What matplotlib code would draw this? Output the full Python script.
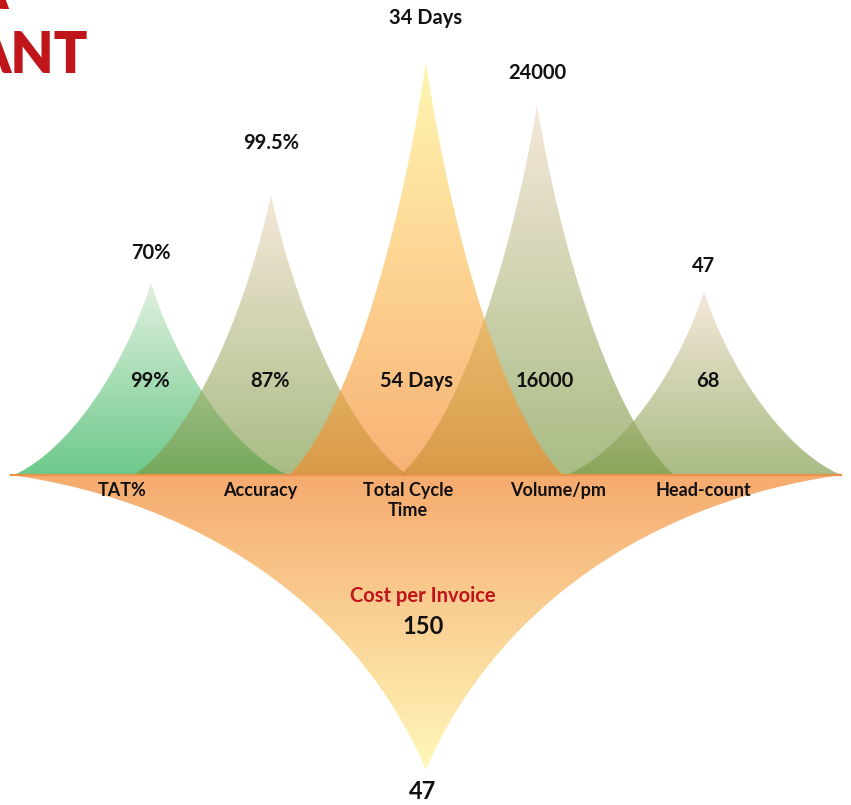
import numpy as np
import matplotlib.pyplot as plt
from matplotlib.patches import Polygon
from matplotlib.colors import to_rgb

# data
categories = ["TAT%", "Accuracy", "Total Cycle\nTime", "Volume/pm", "Head-count"]
current = ["99%", "87%", "54 Days", "16000", "68"]
target = ["70%", "99.5%", "34 Days", "24000", "47"]
peak_height = [192, 280, 413, 370, 183]
cost_label = "Cost per Invoice"
cost_current = "150"
cost_target = "47"

# layout (pixel-like units, baseline at 0)
centers = [151, 271, 426, 537, 704]
half_w = 137
target_y = [222, 332, 457, 402, 209]
value_x = [150, 270, 417, 545, 708]
cat_x = [122, 260, 408, 558, 703]
down_cx, down_w, down_h = 426, 415, -295

ALPHA = 0.65
top_cols = ["#e2f1df", "#f6e8da", "#fff6b2", "#f6e8da", "#f6e8da"]
mid_cols = [None, None, "#fedb98", None, None]
bot_cols = ["#6cc98a", "#a8bc84", "#f8b274", "#a8bc84", "#a8bc84"]
zorders = [2, 3, 5, 3, 4]

plt.rcParams['font.family'] = ['Lato', 'DejaVu Sans']


def bezier(p0, p1, p2, p3, n=150):
    t = np.linspace(0, 1, n)[:, None]
    return ((1 - t) ** 3 * p0 + 3 * (1 - t) ** 2 * t * p1
            + 3 * (1 - t) * t ** 2 * p2 + t ** 3 * p3)


def spike(cx, w, h, c1, c2):
    e = bezier(np.array([0, 1.]), np.array(c1), np.array(c2), np.array([1, 0.]))
    right = np.column_stack([cx + e[:, 0] * w, e[:, 1] * h])
    left = np.column_stack([cx - e[::-1, 0] * w, e[::-1, 1] * h])
    return np.vstack([left, right[1:]])


def pure(col, a):
    c = np.array(to_rgb(col))
    return np.clip((c - (1 - a)) / a, 0, 1)


def gradient(stops, a, n=256):
    # stops: (pos, colour), pos 0 = base, 1 = tip
    pos = np.array([s[0] for s in stops])
    cols = np.array([pure(s[1], a) for s in stops])
    t = np.linspace(0, 1, n)
    rgb = np.column_stack([np.interp(t, pos, cols[:, k]) for k in range(3)])
    img = np.ones((n, 1, 4))
    img[:, 0, :3] = rgb
    img[:, 0, 3] = a
    return img


fig = plt.figure(figsize=(8.51, 8.05), dpi=100)
ax = fig.add_axes([0, 0, 1, 1])
ax.set_xlim(0, 851)
ax.set_ylim(-330, 475)
ax.axis('off')

# downward spike
verts = spike(down_cx, down_w, down_h, (0.15, 0.5), (0.5, 0.1))
poly = Polygon(verts, closed=True, facecolor='none', edgecolor='none')
ax.add_patch(poly)
img = gradient([(0, "#f6aa6e"), (1, "#fff8ba")], 1.0)
im = ax.imshow(img[::-1], extent=(down_cx - down_w, down_cx + down_w, down_h, 0),
               origin='lower', aspect='auto', interpolation='bilinear', zorder=1)
im.set_clip_path(poly)

# upward spikes
for i in range(len(categories)):
    cx, h = centers[i], peak_height[i]
    verts = spike(cx, half_w, h, (0.2, 0.55), (0.6, 0.13))
    poly = Polygon(verts, closed=True, facecolor='none', edgecolor='none')
    ax.add_patch(poly)
    stops = [(0, bot_cols[i])]
    if mid_cols[i]:
        stops.append((0.6, mid_cols[i]))
    stops.append((1, top_cols[i]))
    img = gradient(stops, ALPHA)
    im = ax.imshow(img, extent=(cx - half_w, cx + half_w, 0, h), origin='lower',
                   aspect='auto', interpolation='bilinear', zorder=zorders[i])
    im.set_clip_path(poly)

ax.plot([down_cx - down_w, down_cx + down_w], [0, 0], color='#e9924a', lw=1.6, zorder=6)

txt = dict(ha='center', va='center', color='#111111', fontweight='bold', zorder=10)
for i in range(len(categories)):
    ax.text(centers[i], target_y[i], target[i], fontsize=14.5, **txt)
    ax.text(value_x[i], 94, current[i], fontsize=14.5, **txt)
    ax.text(cat_x[i], -7, categories[i], fontsize=13, ha='center', va='top',
            color='#111111', fontweight='bold', linespacing=1.2, zorder=10)

ax.text(down_cx - 3, -121, cost_label, fontsize=14.5, ha='center', va='center',
        color='#c0141c', fontweight='bold', zorder=10)
ax.text(down_cx - 3, -151, cost_current, fontsize=17, **txt)
ax.text(down_cx - 3, -316, cost_target, fontsize=17, **txt)

# cropped title in the corner
ax.text(8, 466, "A", fontsize=40, ha='right', va='baseline', color='#c0151b',
        fontweight='heavy', zorder=10)
ax.text(88, 402, "ANT", fontsize=40, ha='right', va='baseline', color='#c0151b',
        fontweight='heavy', zorder=10)

fig.savefig("out.png", dpi=100)
